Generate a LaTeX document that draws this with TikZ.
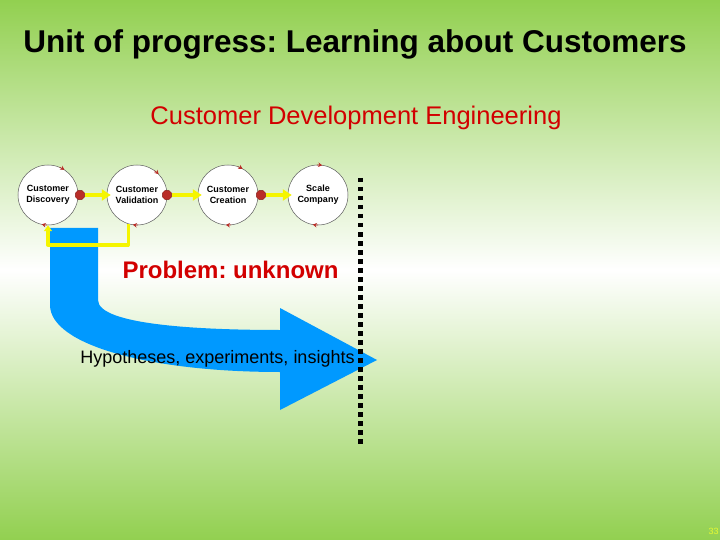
\documentclass[tikz,border=0pt]{standalone}
\usepackage{fontspec}
\setmainfont{Liberation Sans}
\usetikzlibrary{calc,shapes.geometric,arrows.meta}
\definecolor{bggreen}{RGB}{146,208,80}
\definecolor{slidered}{RGB}{210,0,0}
\definecolor{arrowblue}{RGB}{0,153,255}
\definecolor{hiyellow}{RGB}{245,245,0}
\definecolor{stopred}{RGB}{185,45,40}
\definecolor{pagenum}{RGB}{230,250,50}
\tikzset{
  phase/.style={circle, draw=black!65, line width=0.5pt, fill=white, minimum size=60pt, inner sep=0pt, align=center, font=\fontsize{9}{11}\selectfont\bfseries},
  stopsign/.style={regular polygon, regular polygon sides=8, fill=stopred, draw=stopred!70!black, line width=0.3pt, minimum size=10pt, inner sep=0pt},
  advance/.style={color=hiyellow, line width=3.5pt, shorten >=-4pt, -{Triangle[length=9pt,width=11pt]}},
  feedback/.style={color=hiyellow, line width=3.3pt, line join=round, -{Triangle[length=6pt,width=8pt]}},
  cyclemark/.style={stopred, line width=0.7pt, -{Stealth[length=4pt,width=4.5pt]}}
}
\def\markarc(#1)(#2){\draw[cyclemark] ($(#1)+({-(#2)-10}:30)$) arc ({-(#2)-10}:{-(#2)}:30);}

\begin{document}
\frenchspacing
\begin{tikzpicture}[x=1pt,y=-1pt]
			%%%%% START %%%%%
			\useasboundingbox (0,0) rectangle (720,540);
			
			\shade[top color=bggreen, bottom color=white] (0,0) rectangle (720,270);
			\shade[top color=white, bottom color=bggreen] (0,270) rectangle (720,540);
			
			\node[font=\fontsize{31.5}{38}\selectfont\bfseries, anchor=base] (title) at (355,53) {Unit of progress: Learning about Customers};
			\node[font=\fontsize{25.5}{30}\selectfont, text=slidered, anchor=base] (subtitle) at (356,125) {Customer Development Engineering};
			
			\fill[arrowblue] (50,228) -- (50,305) .. controls (50,345) and (150,372) .. (280,372) -- (280,410) -- (377,360) -- (280,308) -- (280,330) .. controls (200,330) and (98,325) .. (98,300) -- (98,228) -- cycle;
			
			\node[phase] (disc) at (48,195) {Customer\\Discovery};
			\node[phase] (valid) at (137,195) {Customer\\Validation};
			\node[phase] (creat) at (228,195) {Customer\\Creation};
			\node[phase] (scale) at (318,195) {Scale\\Company};
			
			\markarc(disc)(57);
			\markarc(disc)(258);
			\markarc(valid)(44);
			\markarc(valid)(262);
			\markarc(creat)(61);
			\markarc(creat)(266);
			\markarc(scale)(82);
			\markarc(scale)(260);
			
			\node[stopsign] (stopa) at (80,195) {};
			\node[stopsign] (stopb) at (167,195) {};
			\node[stopsign] (stopc) at (261,195) {};
			
			\draw[advance] (stopa) -- (valid);
			\draw[advance] (stopb) -- (creat);
			\draw[advance] (stopc) -- (scale);
			
			\coordinate (fbcorner) at (48,245);
			\draw[feedback] (valid.-107) |- (fbcorner) -- (disc.south);
			
			\coordinate (fencetop) at (360.5,178);
			\coordinate (fencebot) at (360.5,448);
			\draw[line width=5pt, dash pattern=on 4.5pt off 4.5pt] (fencetop) -- (fencebot);
			
			\node[font=\fontsize{24}{28}\selectfont\bfseries, text=slidered, anchor=base] (problem) at (230.5,278) {Problem: unknown};
			\node[font=\fontsize{18}{22}\selectfont, anchor=base] (hypo) at (217.5,363) {Hypotheses, experiments, insights};
			
			\node[font=\fontsize{9}{11}\selectfont, text=pagenum, anchor=base] (pageno) at (713.5,534) {33};
			%%%%% END %%%%%
\end{tikzpicture}
\end{document}
